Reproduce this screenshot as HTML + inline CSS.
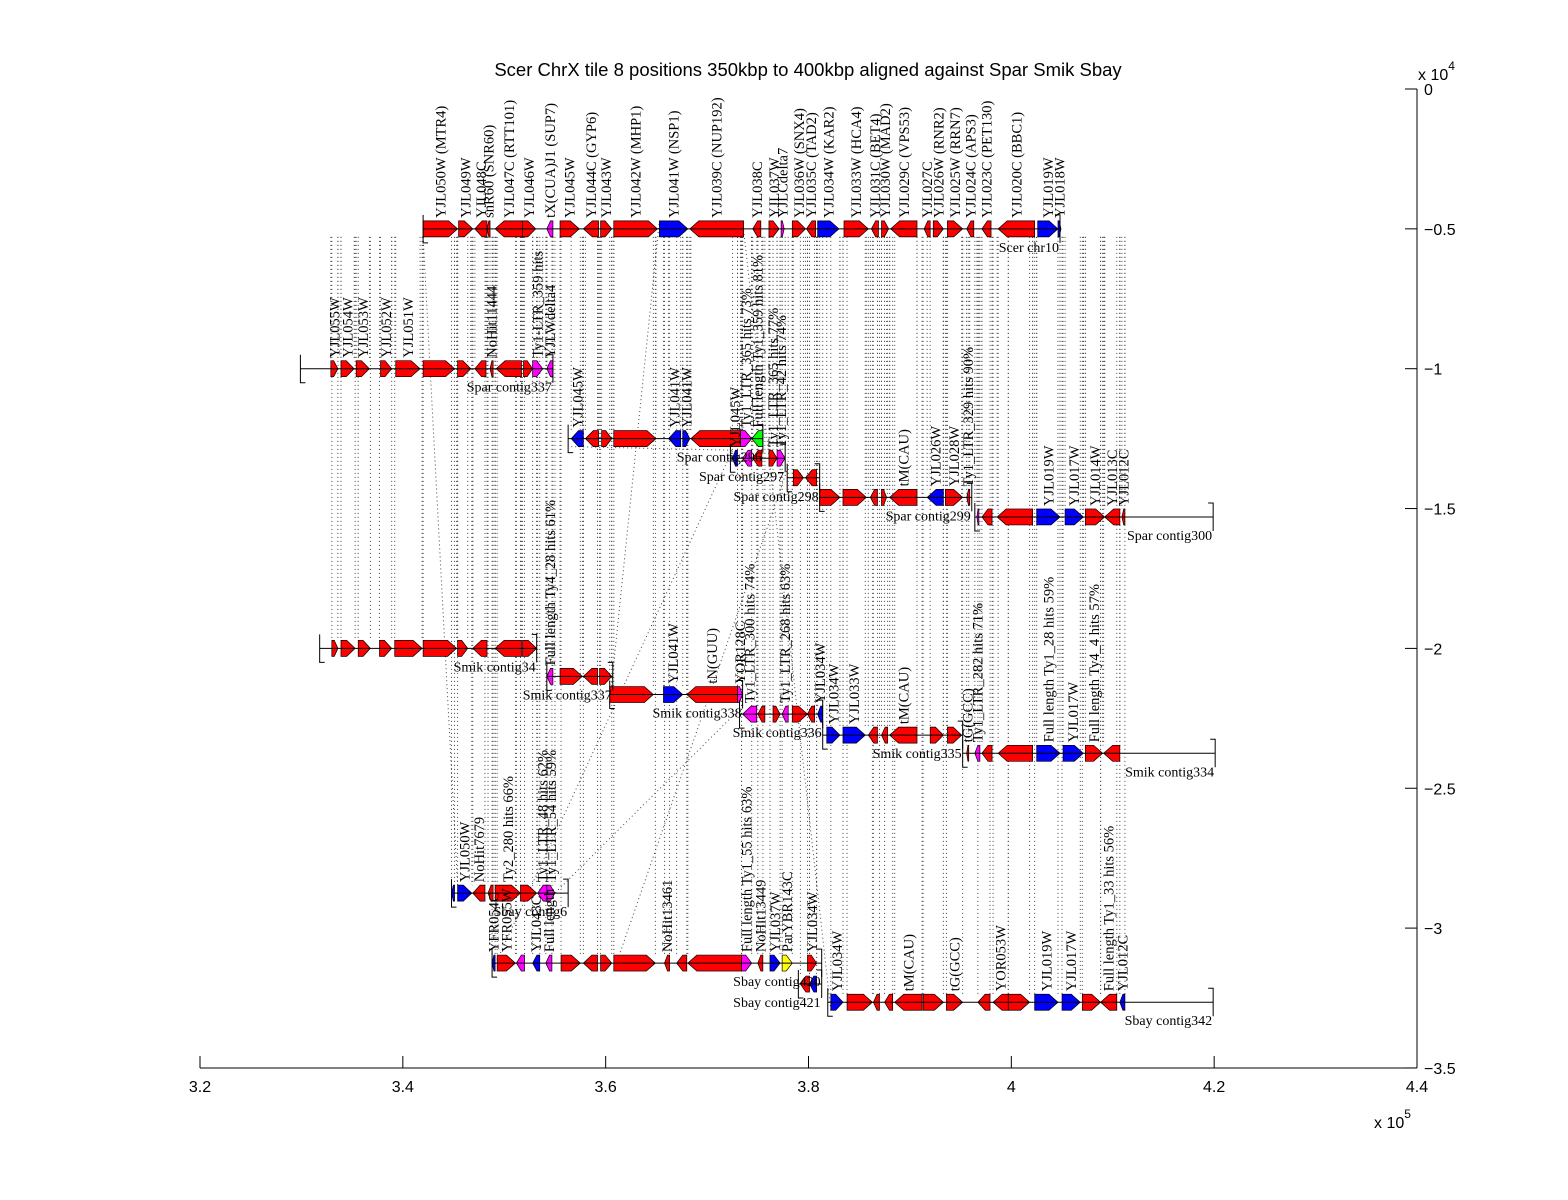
<!DOCTYPE html>
<html><head><meta charset="utf-8"><title>Scer ChrX tile 8</title>
<style>
html,body{margin:0;padding:0;background:#fff;}
svg{display:block;}
text{font-family:"Liberation Serif",serif;}
.ax{font-family:"Liberation Sans",sans-serif;font-size:16px;}
</style></head>
<body>
<svg id="chart" width="1568" height="1200" viewBox="0 0 1568 1200" xmlns="http://www.w3.org/2000/svg">
<rect width="1568" height="1200" fill="#fff"/>
<text x="808" y="76" text-anchor="middle" style="font-family:'Liberation Sans',sans-serif;font-size:18.5px">Scer ChrX tile 8 positions 350kbp to 400kbp aligned against Spar Smik Sbay</text>
<g id="dots"></g>
<g id="axes"></g>
<g id="genes"></g>
<g id="labels"></g>
</svg>
<script>
// x tick values (x 10^5) and y tick values (x 10^4)
const xTicks = [3.2, 3.4, 3.6, 3.8, 4.0, 4.2, 4.4];
const xTickLabels = ["3.2","3.4","3.6","3.8","4","4.2","4.4"];
const yTicks = [0, -0.5, -1, -1.5, -2, -2.5, -3, -3.5];
const yTickLabels = ["0","−0.5","−1","−1.5","−2","−2.5","−3","−3.5"];

// contigs: [start kbp, end kbp, row (x1e4), name]
const contigs = [
 [342.0,404.8,-0.5,"Scer chr10"],
 [329.9,354.8,-1.0,"Spar contig337"],
 [356.3,375.5,-1.25,"Spar contig296"],
 [372.3,377.7,-1.32,"Spar contig297"],
 [377.9,381.1,-1.39,"Spar contig298"],
 [381.1,396.1,-1.46,"Spar contig299"],
 [396.4,419.9,-1.53,"Spar contig300"],
 [331.8,353.2,-2.0,"Smik contig34"],
 [354.2,360.7,-2.1,"Smik contig337"],
 [360.4,373.5,-2.165,"Smik contig338"],
 [373.2,381.4,-2.235,"Smik contig336"],
 [381.4,395.2,-2.31,"Smik contig335"],
 [395.2,420.1,-2.375,"Smik contig334"],
 [344.8,356.3,-2.875,"Sbay contig6"],
 [348.8,381.3,-3.125,"Sbay contig420"],
 [379.0,381.3,-3.2,"Sbay contig421"],
 [381.9,419.9,-3.265,"Sbay contig342"]
];

// genes per track: [start kbp, end kbp, colour, strand, label]
const scerGenes = [
 [342.0,345.4,'r','W','YJL050W (MTR4)'],[345.5,346.9,'r','W','YJL049W'],[347.1,348.3,'r','C','YJL048C'],
 [348.3,348.6,'r','C','snR60 (SNR60)'],
 [349.1,351.8,'r','C','YJL047C (RTT101)'],[351.8,353.1,'r','W','YJL046W'],[354.2,354.8,'m','C','tX(CUA)J1 (SUP7)'],
 [355.5,357.4,'r','W','YJL045W'],[357.8,359.3,'r','C','YJL044C (GYP6)'],[359.5,360.6,'r','W','YJL043W'],
 [360.8,365.1,'r','W','YJL042W (MHP1)'],[365.3,368.1,'b','W','YJL041W (NSP1)'],[368.3,373.6,'r','C','YJL039C (NUP192)'],
 [374.5,375.3,'r','C','YJL038C'],[376.1,377.1,'r','W','YJL037W'],[377.3,377.6,'m','W','YJLCdelta7'],
 [378.4,379.7,'r','W','YJL036W (SNX4)'],[379.8,380.7,'r','C','YJL035C (TAD2)'],[380.9,383.0,'b','W','YJL034W (KAR2)'],
 [383.5,385.9,'r','W','YJL033W (HCA4)'],[386.2,386.9,'r','C','YJL031C (BET4)'],[387.2,387.9,'r','W','YJL030W (MAD2)'],
 [388.1,390.7,'r','C','YJL029C (VPS53)'],[391.4,392.0,'r','C','YJL027C'],[392.3,393.3,'r','W','YJL026W (RNR2)'],
 [393.7,395.2,'r','W','YJL025W (RRN7)'],[395.6,396.3,'r','C','YJL024C (APS3)'],[397.1,398.0,'r','C','YJL023C (PET130)'],
 [398.7,402.3,'r','C','YJL020C (BBC1)'],[402.6,404.6,'b','W','YJL019W'],[404.6,404.9,'b','W','YJL018W']
];
const sparGenesA = [
 [332.9,333.6,'r','W','YJL055W'],[333.9,335.2,'r','W','YJL054W'],[335.4,336.7,'r','W','YJL053W'],
 [337.8,338.9,'r','W','YJL052W'],[339.3,341.7,'r','W','YJL051W'],[342.0,345.1,'r','W',''],
 [345.4,346.7,'r','W',''],[347.1,348.2,'r','C',''],[348.6,348.9,'r','C','NoHit11444'],
 [349.2,351.7,'r','C',''],[351.9,352.8,'r','W',''],[352.8,353.8,'m','W','Ty1-LTR_359 hits'],[354.2,354.8,'m','C','YJLWdelta4']
];
const sparGenesB = [
 [356.6,357.8,'b','C','YJL045W'],[358.0,359.3,'r','C',''],[359.6,360.6,'r','W',''],[360.8,364.96,'r','W',''],
 [366.2,367.4,'b','C','YJL041W'],[367.6,368.3,'b','W','YJL041W'],[368.4,373.3,'r','C',''],
 [373.3,374.4,'m','W','Ty1_LTR_365 hits 73%'],[374.4,375.5,'g','C','Full length Ty1_359 hits 81%']
];
const sparGenesC = [
 [372.5,373.0,'b','C','YJL045W'],[373.5,374.4,'m','C',''],[374.5,375.4,'r','C',''],
 [376.1,376.9,'r','W','Ty1_LTR_365 hits 77%'],[376.9,377.7,'m','W','Ty1_LTR_42 hits 74%']
];
const sparGenesD = [[378.5,379.5,'r','W',''],[379.7,380.8,'r','C','']];
const sparGenesE = [
 [381.1,383.1,'r','W',''],[383.4,385.7,'r','W',''],[386.1,386.8,'r','C',''],[387.2,387.7,'r','W',''],
 [388.0,390.7,'r','C','tM(CAU)'],[391.7,393.3,'b','C','YJL026W'],[393.5,395.2,'r','W','YJL028W'],[395.6,395.9,'r','C','Ty1_LTR_329 hits 90%']
];
const sparGenesF = [
 [396.6,396.8,'m','C',''],[397.1,398.1,'r','C',''],[398.6,402.1,'r','C',''],[402.5,404.8,'b','W','YJL019W'],
 [405.3,407.1,'b','W','YJL017W'],[407.3,409.2,'r','W','YJL014W'],[409.2,410.7,'r','C','YJL013C'],[410.9,411.2,'r','C','YJL012C']
];
const smikGenesA = [
 [333.0,333.6,'r','W',''],[333.9,335.3,'r','W',''],[335.6,336.8,'r','W',''],[337.7,338.9,'r','W',''],
 [339.2,341.9,'r','W',''],[342.0,345.3,'r','W',''],[345.4,346.4,'r','W',''],[346.9,348.3,'r','C',''],
 [349.1,351.7,'r','C',''],[351.8,353.2,'r','W','']
];
const smikGenesB = [
 [354.2,354.8,'m','C','Full length Ty4_28 hits 61%'],[355.5,357.7,'r','W',''],[357.8,359.2,'r','C',''],[359.4,360.6,'r','W','']
];
const smikGenesC = [
 [360.4,364.7,'r','W',''],[365.7,367.6,'b','W','YJL041W'],[368.0,373.0,'r','C','tN(GUU)'],[373.0,373.5,'m','W','YOR128C']
];
const smikGenesD = [
 [373.5,374.9,'m','C','Ty1_LTR_300 hits 74%'],[375.0,375.7,'r','C',''],[376.5,377.2,'r','W',''],
 [377.4,378.0,'m','C','Ty1_LTR_268 hits 63%'],[378.4,379.9,'r','W',''],[379.9,380.6,'r','C',''],[380.9,381.4,'b','C','YJL034W']
];
const smikGenesE = [
 [381.8,383.1,'b','W','YJL034W'],[383.4,385.6,'b','W','YJL033W'],[385.9,386.8,'r','C',''],[387.2,387.8,'r','C',''],
 [388.0,390.7,'r','C','tM(CAU)'],[392.0,393.3,'r','W',''],[393.7,395.1,'r','W','']
];
const smikGenesF = [
 [395.6,395.8,'r','C','tG(GCC)'],[396.4,396.9,'m','C','Ty1_LTR_282 hits 71%'],[397.1,398.1,'r','C',''],
 [398.7,402.1,'r','C',''],[402.5,404.8,'b','W','Full length Ty1_28 hits 59%'],[405.1,407.1,'b','W','YJL017W'],
 [407.3,409.0,'r','W','Full length Ty4_4 hits 57%'],[409.1,410.7,'r','C','']
];
const sbayGenesA = [
 [344.8,345.1,'b','C',''],[345.4,346.8,'b','W','YJL050W'],[346.9,348.1,'r','C','NoHit7679'],[348.4,348.9,'r','C',''],
 [349.1,351.6,'r','W','Ty2_280 hits 66%'],[351.6,353.2,'r','W',''],[353.3,354.2,'m','C','Ty1_LTR_48 hits 62%'],[354.2,355.0,'m','W','Ty1_LTR_54 hits 59%']
];
const sbayGenesB = [
 [348.8,349.1,'b','C','YFR054C'],[349.3,351.1,'r','W','YFR055W'],[351.2,352.0,'m','C',''],[352.8,353.5,'b','C','YJL043C'],
 [354.1,354.7,'m','C','Full length'],[355.6,357.5,'r','W',''],[357.8,359.2,'r','C',''],[359.5,360.6,'r','W',''],
 [360.8,364.9,'r','W',''],[365.8,366.3,'r','C','NoHit13461'],[367.0,368.0,'r','C',''],[368.1,373.4,'r','C',''],
 [373.4,374.4,'m','W','Full length Ty1_55 hits 63%'],[375.0,375.5,'r','C','NoHit13449'],[376.2,377.2,'b','W','YJL037W'],
 [377.4,378.4,'y','W','ParYBR143C'],[379.9,380.8,'r','W','YJL034W']
];
const sbayGenesC = [[379.2,380.1,'r','C',''],[380.1,380.8,'b','C','']];
const sbayGenesD = [
 [382.2,383.4,'b','W','YJL034W'],[383.8,386.3,'r','W',''],[386.4,387.0,'r','C',''],[387.5,388.3,'r','C',''],
 [388.5,391.2,'r','C','tM(CAU)'],[391.3,393.3,'r','W',''],[393.6,395.2,'r','W','tG(GCC)'],[396.7,397.9,'r','C',''],
 [398.2,399.7,'r','C','YOR053W'],[399.7,401.8,'r','W',''],[402.3,404.6,'b','W','YJL019W'],[405.0,406.8,'b','W','YJL017W'],
 [407.0,408.8,'r','W',''],[408.8,410.4,'r','C','Full length Ty1_33 hits 56%'],[410.7,411.2,'b','C','YJL012C']
];
const trackRows = [-0.5,-1.0,-1.25,-1.32,-1.39,-1.46,-1.53,-2.0,-2.1,-2.165,-2.235,-2.31,-2.375,-2.875,-3.125,-3.2,-3.265];
const trackGenes = [scerGenes,sparGenesA,sparGenesB,sparGenesC,sparGenesD,sparGenesE,sparGenesF,
 smikGenesA,smikGenesB,smikGenesC,smikGenesD,smikGenesE,smikGenesF,sbayGenesA,sbayGenesB,sbayGenesC,sbayGenesD];

// diagonal alignment links: [from kbp, from row, to kbp, to row]
const links = [
 [342.0,-0.5,345.4,-2.875],[356.6,-1.25,372.5,-1.32],[348.8,-3.125,372.5,-1.32],[354.2,-2.875,373.5,-2.235],
 [360.4,-2.165,365.3,-0.5],[382.2,-3.265,373.5,-0.5],[360.8,-3.125,377.9,-1.39]
];

const NS = "http://www.w3.org/2000/svg";
const X = k => 200 + (k - 320) * 1217 / 120;
const Y = v => 89 - v * 279.7;
const COL = {r:'#ff0000',b:'#0000ff',m:'#ff00ff',g:'#00ff00',y:'#ffff00'};
function mk(tag, attrs, parent){const e=document.createElementNS(NS,tag);for(const k in attrs)e.setAttribute(k,attrs[k]);parent.appendChild(e);return e;}
const gAx=document.getElementById('axes'),gG=document.getElementById('genes'),gL=document.getElementById('labels'),gD=document.getElementById('dots');

// axes
let l=mk('line',{x1:X(320),y1:Y(-3.5),x2:X(440),y2:Y(-3.5),stroke:'#000'},gAx);


l=mk('line',{x1:X(440),y1:Y(0),x2:X(440),y2:Y(-3.5),stroke:'#000'},gAx);


xTicks.forEach((t,i)=>{
  const x=X(t*100);
  mk('line',{x1:x,y1:Y(-3.5),x2:x,y2:Y(-3.5)-12,stroke:'#000'},gAx);
  const tx=mk('text',{x:x,y:1092,'text-anchor':'middle',class:'ax'},gAx);tx.textContent=xTickLabels[i];
  
  
});
yTicks.forEach((t,i)=>{
  const y=Y(t);
  mk('line',{x1:X(440),y1:y,x2:X(440)-12,y2:y,stroke:'#000'},gAx);
  const tx=mk('text',{x:1424,y:y+6,class:'ax'},gAx);tx.textContent=yTickLabels[i];
  
  
});
let ex=mk('text',{x:1374,y:1128,class:'ax'},gAx);ex.innerHTML='x 10<tspan dy="-10" font-size="12">5</tspan>';


ex=mk('text',{x:1418,y:80,class:'ax'},gAx);ex.innerHTML='x 10<tspan dy="-10" font-size="12">4</tspan>';



// dotted alignment lines
const topY=Y(-0.5)+8;
trackGenes.forEach((genes,ti)=>{
  if(ti===0)return;
  const ry=Y(trackRows[ti])-8;
  genes.forEach(g=>{[g[0],g[1]].forEach(k=>{
    const d=mk('line',{x1:X(k),y1:topY,x2:X(k),y2:ry,stroke:'#444','stroke-width':1,'stroke-dasharray':'1 3'},gD);
    
    
  });});
});
links.forEach(k=>{
  const d=mk('line',{x1:X(k[0]),y1:Y(k[1])+8,x2:X(k[2]),y2:Y(k[3])-8,stroke:'#444','stroke-width':1,'stroke-dasharray':'1 3'},gD);
  
  
});

// genes
trackGenes.forEach((genes,ti)=>{
  const y=Y(trackRows[ti]);
  genes.forEach(g=>{
    const x0=X(g[0]),x1=X(g[1]),len=x1-x0,h=Math.min(9,len*0.6),hh=8;
    let pts;
    if(g[3]==='W')pts=[[x0,y-hh],[x1-h,y-hh],[x1,y],[x1-h,y+hh],[x0,y+hh]];
    else pts=[[x1,y-hh],[x0+h,y-hh],[x0,y],[x0+h,y+hh],[x1,y+hh]];
    const p=mk('polygon',{points:pts.map(q=>q.join(',')).join(' '),fill:COL[g[2]],stroke:'#000','stroke-width':0.7},gG);
    
    
    if(g[4]){
      const lx=(x0+x1)/2+5,ly=y-11;
      const t=mk('text',{x:lx,y:ly,'font-size':14.5,transform:`rotate(-90 ${lx} ${ly})`},gL);
      t.textContent=g[4];
      
      
    }
  });
});
// contig lines, brackets, names
contigs.forEach(c=>{
  const x0=X(c[0]),x1=X(c[1]),y=Y(c[2]);
  const ln=mk('line',{x1:x0,y1:y,x2:x1,y2:y,stroke:'#000'},gG);
  
  
  const b=mk('path',{d:`M${x0+5},${y+14}H${x0}V${y-14} M${x1-5},${y-14}H${x1}V${y+14}`,fill:'none',stroke:'#000'},gG);
  
  
  const t=mk('text',{x:x1-1,y:y+23,'text-anchor':'end','font-size':14},gL);
  t.textContent=c[3];
  
  
});
</script>
</body></html>
